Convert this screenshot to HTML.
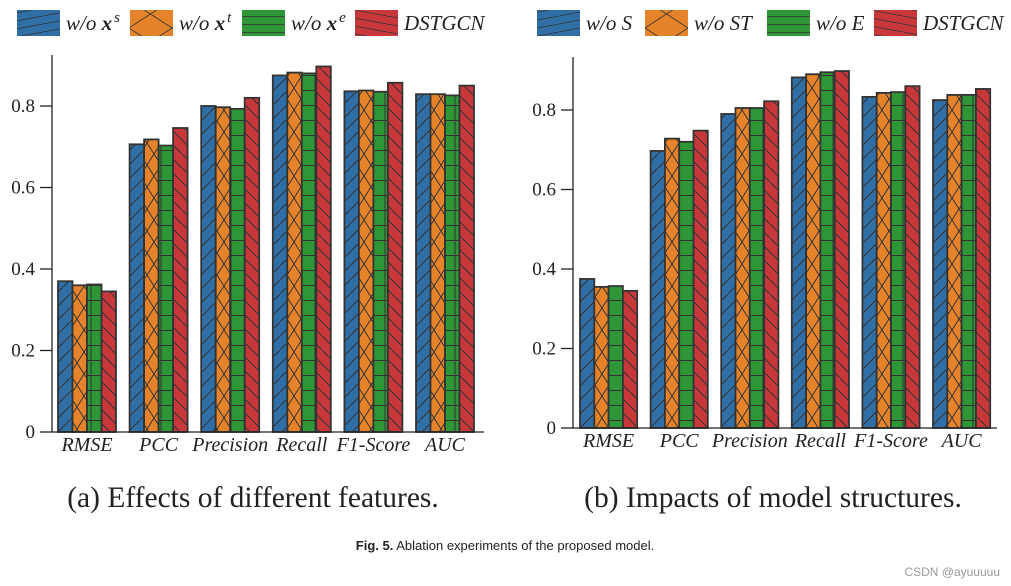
<!DOCTYPE html>
<html><head><meta charset="utf-8"><style>
body{margin:0;background:#fff;width:1011px;height:586px;overflow:hidden;}
svg{position:absolute;left:0;top:0;}
</style></head><body>
<svg id="s" width="1011" height="586" xmlns="http://www.w3.org/2000/svg">
<defs>
<pattern id="p0" width="14" height="14" patternUnits="userSpaceOnUse"><rect width="14" height="14" fill="#2f6fa6"/><path d="M-2,16 L16,-2" stroke="#333" stroke-width="1"/></pattern>
<pattern id="p1" width="14" height="22" patternUnits="userSpaceOnUse"><rect width="14" height="22" fill="#e5832b"/><path d="M0,0 L14,22 M14,0 L0,22" stroke="#333" stroke-width="1"/></pattern>
<pattern id="p2" width="14" height="15" patternUnits="userSpaceOnUse"><rect width="14" height="15" fill="#2f9638"/><path d="M0,0.5 H14 M7,0 V15" stroke="#333" stroke-width="1"/></pattern>
<pattern id="p3" width="14" height="14" patternUnits="userSpaceOnUse"><rect width="14" height="14" fill="#c8383b"/><path d="M-2,-2 L16,16" stroke="#333" stroke-width="1"/></pattern>
<pattern id="l0" width="43" height="8" patternUnits="userSpaceOnUse"><rect width="43" height="8" fill="#2f6fa6"/><path d="M0,8 L43,0" stroke="#333" stroke-width="0.8"/></pattern>
<pattern id="l1" width="43" height="28" patternUnits="userSpaceOnUse"><rect width="43" height="28" fill="#e5832b"/><path d="M0,0 L43,28 M43,0 L0,28" stroke="#333" stroke-width="0.8"/></pattern>
<pattern id="l2" width="43" height="8" patternUnits="userSpaceOnUse"><rect width="43" height="8" fill="#2f9638"/><path d="M0,0.5 H43" stroke="#333" stroke-width="0.8"/></pattern>
<pattern id="l3" width="43" height="8" patternUnits="userSpaceOnUse"><rect width="43" height="8" fill="#c8383b"/><path d="M0,0 L43,8" stroke="#333" stroke-width="0.8"/></pattern>
</defs>
<g id="g"></g>
<text x="253" y="507" text-anchor="middle" font-family="Liberation Serif, serif" font-size="29.5" fill="#222">(a) Effects of different features.</text>
<text x="773" y="507" text-anchor="middle" font-family="Liberation Serif, serif" font-size="29.5" fill="#222">(b) Impacts of model structures.</text>
<text x="505" y="550" text-anchor="middle" font-family="Liberation Sans, sans-serif" font-size="13" fill="#222"><tspan font-weight="bold">Fig. 5.</tspan> Ablation experiments of the proposed model.</text>
<text x="1000" y="576" text-anchor="end" font-family="Liberation Sans, Noto Sans CJK SC, sans-serif" font-size="12" fill="#999">CSDN @ayuuuuu</text>
</svg>
<script>
const categories=["RMSE","PCC","Precision","Recall","F1-Score","AUC"];
const leftSeries=[[0.370,0.706,0.800,0.875,0.836,0.829],[0.360,0.718,0.797,0.882,0.838,0.829],[0.362,0.703,0.793,0.880,0.835,0.826],[0.345,0.746,0.820,0.897,0.857,0.850]];
const rightSeries=[[0.375,0.697,0.790,0.882,0.833,0.825],[0.355,0.728,0.805,0.890,0.843,0.838],[0.357,0.720,0.805,0.895,0.845,0.838],[0.345,0.748,0.822,0.898,0.860,0.853]];
const leftLegend=[["w/o ","x","s"],["w/o ","x","t"],["w/o ","x","e"],["DSTGCN","",""]];
const rightLegend=[["w/o S","",""],["w/o ST","",""],["w/o E","",""],["DSTGCN","",""]];
const yTicks=[0,0.2,0.4,0.6,0.8];
const yTickLabels=["0","0.2","0.4","0.6","0.8"];
const NS="http://www.w3.org/2000/svg";
const G=document.getElementById('g');
function mk(t,a,p){const e=document.createElementNS(NS,t);for(const k in a)e.setAttribute(k,a[k]);(p||G).appendChild(e);return e;}
function chart(cfg,series,legend,tag){
  const y=v=>cfg.y0-v/0.8*(cfg.y0-cfg.y8);
  const grp=mk('g',{});
  
  
  categories.forEach((c,i)=>{
    const gx=cfg.gx0+i*cfg.gstep;
    series.forEach((s,j)=>{
      const r=mk('rect',{x:gx+j*cfg.bw,y:y(s[i]),width:cfg.bw,height:cfg.y0-y(s[i]),fill:'url(#p'+j+')',stroke:'#333','stroke-width':1.8},grp);
      
      
    });
    const t=mk('text',{x:gx+2*cfg.bw,y:cfg.y0+19,'text-anchor':'middle','font-family':'Liberation Serif, serif','font-style':'italic','font-size':20,fill:'#222'},grp);
    t.textContent=c;
    
    
  });
  const ax=mk('path',{d:`M${cfg.ax},${cfg.top} V${cfg.y0} H${cfg.xend}`,stroke:'#222','stroke-width':1.3,fill:'none'},grp);
  
  
  yTicks.forEach((v,k)=>{
    mk('line',{x1:cfg.ax-12,x2:cfg.ax,y1:y(v),y2:y(v),stroke:'#222','stroke-width':1.3},grp);
    const t=mk('text',{x:cfg.ax-17,y:y(v)+6,'text-anchor':'end','font-family':'Liberation Serif, serif','font-size':19,fill:'#222'},grp);
    t.textContent=yTickLabels[k];
    
    
  });
  legend.forEach((l,j)=>{
    const lx=cfg.lx[j];
    const r=mk('rect',{x:lx,y:10,width:43,height:26,fill:'url(#l'+j+')'},grp);
    
    
    const t=mk('text',{x:lx+49,y:30,'font-family':'Liberation Serif, serif','font-style':'italic','font-size':21,fill:'#222'},grp);
    
    
    const a=mk('tspan',{},t);a.textContent=l[0];
    if(l[1]){
      const b=mk('tspan',{'font-weight':'bold'},t);b.textContent=l[1];
      const c=mk('tspan',{'font-size':15,dy:-8,dx:2},t);c.textContent=l[2];
    }
  });
}
chart({y0:432,y8:106,gx0:58,gstep:71.6,bw:14.5,ax:52,top:55,xend:484,lx:[17,130,242,355]},leftSeries,leftLegend,'left');
chart({y0:428,y8:110,gx0:580,gstep:70.6,bw:14.3,ax:573,top:57,xend:997,lx:[537,645,767,874]},rightSeries,rightLegend,'right');
</script>
</body></html>
